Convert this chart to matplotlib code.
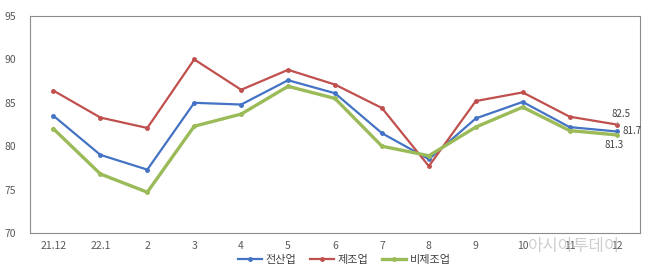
import matplotlib
matplotlib.use("Agg")
from matplotlib import pyplot as plt

plt.rcParams['font.family'] = ['Noto Sans CJK KR', 'DejaVu Sans']

months = ["21.12", "22.1", "2", "3", "4", "5", "6", "7", "8", "9", "10", "11", "12"]
all_ind = [83.5, 79.0, 77.3, 85.0, 84.8, 87.6, 86.1, 81.5, 78.5, 83.2, 85.1, 82.2, 81.7]
manuf = [86.4, 83.3, 82.1, 90.0, 86.5, 88.8, 87.1, 84.4, 77.7, 85.2, 86.2, 83.4, 82.5]
non_manuf = [82.0, 76.8, 74.7, 82.3, 83.7, 86.9, 85.5, 80.0, 78.9, 82.2, 84.5, 81.8, 81.3]

fig = plt.figure(figsize=(6.51, 2.75), dpi=100)
ax = fig.add_axes([30 / 651, 42 / 275, 610 / 651, 217 / 275])

x = range(len(months))
ax.plot(x, all_ind, color="#4472C4", lw=1.6, marker="o", ms=2.5, label="전산업")
ax.plot(x, manuf, color="#C0504D", lw=1.6, marker="o", ms=2.5, label="제조업")
ax.plot(x, non_manuf, color="#9BBB59", lw=2.4, marker="o", ms=2.5, label="비제조업")

ax.set_xlim(-0.5, len(months) - 0.5)
ax.set_ylim(70, 95)
ax.set_yticks([70, 75, 80, 85, 90, 95])
ax.set_xticks(list(x))
ax.set_xticklabels(months)
ax.tick_params(length=0, labelsize=7.5, colors="#595959", pad=6)
ax.tick_params(axis="y", pad=10)
for s in ax.spines.values():
    s.set_color("#8c8c8c")

last = len(months) - 1
ax.annotate(f"{manuf[-1]}", (last, manuf[-1]), xytext=(last - 0.1, manuf[-1] + 0.6),
            fontsize=7, color="#404040", ha="left", va="bottom",
            arrowprops=dict(arrowstyle="-", color="#a0a0a0", lw=0.6))
ax.text(last + 0.12, all_ind[-1], f"{all_ind[-1]}", fontsize=7, color="#404040", va="center")
ax.text(last - 0.05, non_manuf[-1] - 0.6, f"{non_manuf[-1]}", fontsize=7, color="#404040",
        ha="center", va="top")

ax.legend(loc="upper center", bbox_to_anchor=(0.515, -0.055), ncol=3, frameon=False,
          fontsize=8, handlelength=2.2, columnspacing=1.2, handletextpad=0.3,
          labelcolor="#404040")

# watermark
fig.text(528 / 651, 1 - 246 / 275, "아시아투데이", fontsize=12, color="#b0b0b0",
         alpha=0.6, va="center", zorder=0)

fig.savefig("out.png", dpi=100)
